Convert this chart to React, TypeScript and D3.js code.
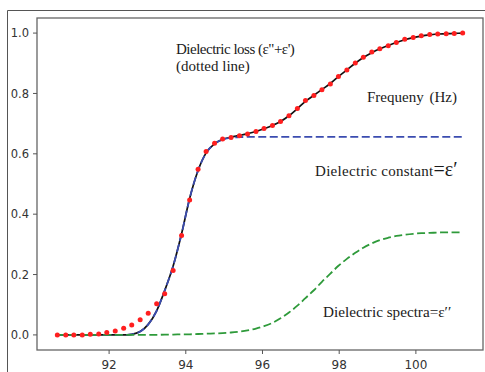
import React from "react";
import * as d3 from "d3";

// Frequency samples (x) shared by all series
const freq = [
  90.65, 90.87, 91.08, 91.3, 91.51, 91.73, 91.94, 92.16, 92.38, 92.59,
  92.81, 93.02, 93.24, 93.45, 93.67, 93.89, 94.1, 94.32, 94.53, 94.75,
  94.96, 95.18, 95.4, 95.61, 95.83, 96.04, 96.26, 96.47, 96.69, 96.91,
  97.12, 97.34, 97.55, 97.77, 97.98, 98.2, 98.42, 98.63, 98.85, 99.06,
  99.28, 99.49, 99.71, 99.93, 100.14, 100.36, 100.57, 100.79, 101.0, 101.22,
];

// Dielectric loss, dotted (red markers)
const lossDots = [
  0, 0, 0, 0, 0.002, 0.003, 0.008, 0.013, 0.022, 0.033,
  0.05, 0.072, 0.103, 0.136, 0.213, 0.329, 0.447, 0.549, 0.608, 0.635,
  0.649, 0.654, 0.66, 0.666, 0.674, 0.684, 0.694, 0.707, 0.726, 0.75,
  0.777, 0.793, 0.812, 0.831, 0.856, 0.878, 0.901, 0.92, 0.937, 0.948,
  0.958, 0.969, 0.98, 0.985, 0.991, 0.995, 0.997, 0.998, 0.999, 1.0,
];

// Total (black solid)
const total = [
  0, 0, 0, 0, 0, 0, 0, 0, 0, 0.002,
  0.011, 0.035, 0.08, 0.147, 0.228, 0.335, 0.452, 0.545, 0.603, 0.633,
  0.648, 0.655, 0.661, 0.667, 0.674, 0.683, 0.694, 0.707, 0.726, 0.75,
  0.774, 0.794, 0.813, 0.833, 0.856, 0.878, 0.9, 0.919, 0.935, 0.948,
  0.959, 0.969, 0.978, 0.985, 0.99, 0.994, 0.997, 0.998, 0.999, 1.0,
];

// Dielectric constant ε' (blue dashed)
const constant = [
  0, 0, 0, 0, 0, 0, 0, 0, 0, 0.002,
  0.011, 0.035, 0.08, 0.147, 0.228, 0.335, 0.452, 0.545, 0.603, 0.633,
  0.647, 0.653, 0.655, 0.656, 0.656, 0.656, 0.656, 0.656, 0.656, 0.656,
  0.656, 0.656, 0.656, 0.656, 0.656, 0.656, 0.656, 0.656, 0.656, 0.656,
  0.656, 0.656, 0.656, 0.656, 0.656, 0.656, 0.656, 0.656, 0.656, 0.656,
];

// Dielectric spectra ε'' (green dashed)
const spectra = [
  0, 0, 0, 0, 0, 0, 0, 0, 0, 0,
  0, 0, 0, 0.001, 0.001, 0.002, 0.002, 0.003, 0.004, 0.005,
  0.006, 0.008, 0.011, 0.015, 0.021, 0.029, 0.04, 0.055, 0.074, 0.097,
  0.122, 0.148, 0.176, 0.203, 0.229, 0.252, 0.272, 0.289, 0.303, 0.314,
  0.322, 0.328, 0.332, 0.335, 0.337, 0.338, 0.339, 0.34, 0.34, 0.34,
];

const xTicks = [92, 94, 96, 98, 100];
const yTicks = [0, 0.2, 0.4, 0.6, 0.8, 1.0];

const W = 485;
const H = 372;
const L = 37, R = 483, T = 18, B = 350;

export default function App() {
  const x = d3.scaleLinear().domain([90.12, 101.75]).range([L, R]);
  const y = d3.scaleLinear().domain([-0.05, 1.05]).range([B, T]);
  const mk = (vals: number[]) =>
    d3
      .line<number>()
      .x((_, i) => x(freq[i]))
      .y((v) => y(v))
      .curve(d3.curveMonotoneX)(vals) as string;

  const serif = "Liberation Serif, DejaVu Serif, serif";
  const sans = "DejaVu Sans, sans-serif";
  const txt = "#1a1a1a";

  return (
    <>
      <style>{`body{margin:0}`}</style>
      <svg width={W} height={H} style={{ display: "block", background: "#fff" }}>
        {/* outer frame */}
        <line x1={7.5} y1={10.5} x2={W} y2={10.5} stroke="#555" strokeWidth={1} />
        <line x1={7.5} y1={10.5} x2={7.5} y2={H} stroke="#555" strokeWidth={1} />

        {/* axes box */}
        <rect x={L} y={T} width={R - L} height={B - T} fill="none" stroke="#666" strokeWidth={1.3} />

        {/* y ticks */}
        {yTicks.map((t) => (
          <g key={"y" + t}>
            <line x1={L - 4} x2={L} y1={y(t)} y2={y(t)} stroke="#555" strokeWidth={1} />
            <text x={L - 8} y={y(t)} dy="0.36em" textAnchor="end" fontFamily={sans} fontSize={11.5} fill="#333">
              {t.toFixed(1)}
            </text>
          </g>
        ))}
        {/* x ticks */}
        {xTicks.map((t) => (
          <g key={"x" + t}>
            <line x1={x(t)} x2={x(t)} y1={B} y2={B + 4} stroke="#555" strokeWidth={1} />
            <text x={x(t)} y={369} textAnchor="middle" fontFamily={sans} fontSize={12} fill="#333">
              {t}
            </text>
          </g>
        ))}

        {/* curves */}
        <path d={mk(total)} fill="none" stroke="#111" strokeWidth={1.7} />
        <path d={mk(constant)} fill="none" stroke="#3b4cb0" strokeWidth={1.8} strokeDasharray="8 3.5" />
        <path d={mk(spectra)} fill="none" stroke="#2e9a3a" strokeWidth={1.8} strokeDasharray="8 3.5" />
        {lossDots.map((v, i) => (
          <circle key={i} cx={x(freq[i])} cy={y(v)} r={2.5} fill="#ff1f1f" />
        ))}

        {/* annotations */}
        <text x={176} y={54} fontFamily={serif} fontSize={15} fill={txt} letterSpacing={-0.5}>
          Dielectric loss (ε"+ε')
        </text>
        <text x={176} y={71} fontFamily={serif} fontSize={15} fill={txt}>
          (dotted line)
        </text>
        <text x={367} y={102} fontFamily={serif} fontSize={15} fill={txt} wordSpacing={2}>
          Frequeny (Hz)
        </text>
        <text x={315} y={176} fontFamily={serif} fontSize={15} fill={txt} letterSpacing={0.3}>
          Dielectric constant
          <tspan fontSize={20} letterSpacing={0}>=ε′</tspan>
        </text>
        <text x={323} y={317} fontFamily={serif} fontSize={15.2} fill={txt}>
          Dielectric spectra=ε′′
        </text>
      </svg>
    </>
  );
}
